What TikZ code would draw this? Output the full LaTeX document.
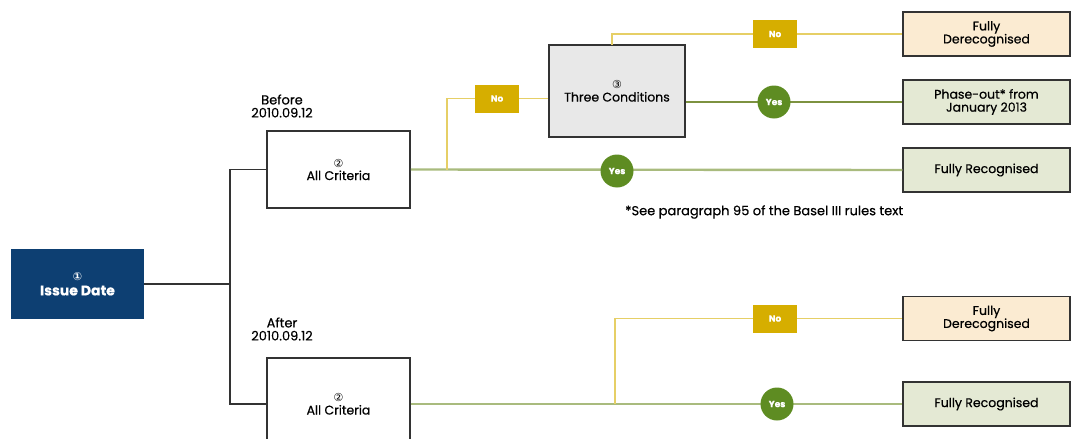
\documentclass[tikz,border=0pt]{standalone}
\usepackage{fontspec}
\setmainfont{Poppins}[FakeBold=0.5]
\newfontfamily\symfont{DejaVu Sans}
\newcommand\circnum[1]{{\symfont\fontsize{11}{11}\selectfont #1}}
\definecolor{navy}{HTML}{0D3F72}
\definecolor{ylw}{HTML}{D6AE00}
\definecolor{ylwline}{HTML}{E6CF66}
\definecolor{grn}{HTML}{5E8C22}
\definecolor{grnlight}{HTML}{A9BB7E}
\definecolor{grndark}{HTML}{7D9240}
\definecolor{boxgray}{HTML}{E8E8E8}
\definecolor{peach}{HTML}{FBEBD2}
\definecolor{sage}{HTML}{E4E9D4}
\definecolor{dk}{HTML}{333333}
\tikzset{
  x=1pt, y=1pt,
  base/.style={draw=dk, line width=1.6pt, align=center, inner sep=0pt, font=\fontsize{12.5}{13}\selectfont},
  critbox/.style={base, fill=white, minimum width=143, minimum height=77},
  outbox/.style={base, minimum width=167, minimum height=44, line width=1.4pt},
  nobox/.style={fill=ylw, minimum width=44, minimum height=28, inner sep=0pt, text=white, font=\fontsize{9}{9}\selectfont\bfseries},
  yescirc/.style={circle, fill=grn, minimum size=33, inner sep=0pt, text=white, font=\fontsize{9}{9}\selectfont\bfseries},
  dkline/.style={draw=dk, line width=1.6pt},
  yline/.style={draw=ylwline, line width=1.6pt},
  glight/.style={draw=grnlight, line width=2.4pt},
  gdark/.style={draw=grndark, line width=1.6pt},
  lbl/.style={align=center, font=\fontsize{13}{13}\selectfont, inner sep=0pt}
}
\begin{document}
\begin{tikzpicture}
\useasboundingbox (0,0) rectangle (1071,-439);
\clip (0,0) rectangle (1071,-439);
% nodes
\node[base, fill=navy, draw=navy, text=white, minimum width=131, minimum height=68, font=\fontsize{14}{15}\selectfont\bfseries] (issue) at (77.5,-284) {\circnum{①}\\Issue Date};
\node[critbox] (crit1) at (338.5,-169.5) {\circnum{②}\\All Criteria};
\node[critbox, minimum height=92] (crit2) at (338.5,-404) {\circnum{②}\\All Criteria};
\node[base, fill=boxgray, minimum width=136, minimum height=92] (three) at (617,-91) {\circnum{③}\\Three Conditions};
\node[outbox, fill=peach] (fd1) at (986.5,-34) {Fully\\Derecognised};
\node[outbox, fill=sage] (po) at (986.5,-102) {Phase-out* from\\January 2013};
\node[outbox, fill=sage] (fr1) at (986.5,-170) {Fully Recognised};
\node[outbox, fill=peach] (fd2) at (986.5,-318.5) {Fully\\Derecognised};
\node[outbox, fill=sage] (fr2) at (986.5,-404) {Fully Recognised};
\node[lbl] (before) at (282,-106) {Before\\2010.09.12};
\node[lbl] (after) at (282,-329) {After\\2010.09.12};
\node[lbl, anchor=west] (note) at (625,-212) {*See paragraph 95 of the Basel III rules text};
% junction coordinates
\coordinate (ja) at (230,-169.5);
\coordinate (jb) at (230,-404);
\coordinate (y1) at (447,-169.5);
\coordinate (t1) at (612,-45);
\coordinate (y3) at (615,-404);
% connectors
\draw[dkline] (issue.east) -- (issue.east -| ja);
\draw[dkline] (crit1.west) -- (ja) -- (jb) -- (crit2.west);
\draw[glight] (crit1.east) -- (fr1.west);
\draw[yline] (y1) |- (three.west |- 0,-98.5);
\draw[yline] (t1) |- (fd1.west);
\draw[gdark] (three.east |- po) -- (po.west);
\draw[glight] (crit2.east) -- (fr2.west);
\draw[yline] (y3) |- (fd2.west);
% labels on lines
\node[nobox] (no1) at (497,-98.5) {No};
\node[nobox] (no2) at (775,-34) {No};
\node[nobox] (no3) at (775,-318.5) {No};
\node[yescirc] (yes1) at (617,-171) {Yes};
\node[yescirc] (yes2) at (774,-102) {Yes};
\node[yescirc] (yes3) at (777,-404) {Yes};
\end{tikzpicture}
\end{document}
